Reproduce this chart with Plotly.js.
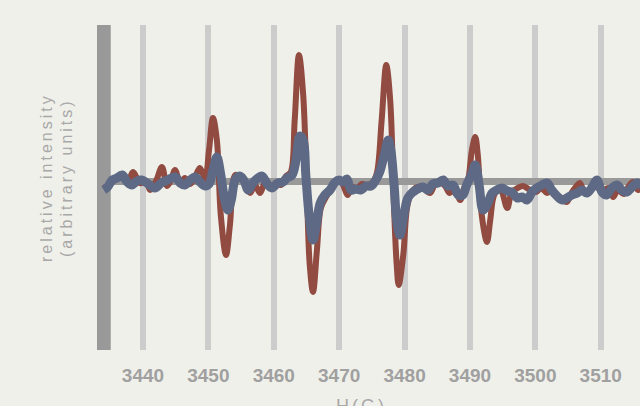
<!DOCTYPE html>
<html>
<head>
<meta charset="utf-8">
<script src="https://cdn.plot.ly/plotly-3.0.1.min.js"></script>
<style>
  html, body { margin: 0; padding: 0; background: #f0f0ea; }
  #chart { width: 640px; height: 406px; }
  .annotation-text { letter-spacing: 3px; }
</style>
</head>
<body>
<div id="chart"></div>
<script>
// Field H (G) and relative intensity (arbitrary units)
const redField = [3434.0,3435.0,3436.0,3436.8,3437.6,3438.5,3439.5,3440.5,3441.1,3442.0,3442.9,3443.7,3444.3,3444.9,3445.7,3446.4,3447.2,3448.1,3448.7,3449.5,3450.1,3450.7,3451.3,3451.9,3452.7,3453.3,3454.1,3454.8,3455.6,3456.4,3457.1,3457.9,3458.7,3459.4,3460.3,3461.1,3461.9,3462.6,3463.2,3463.85,3464.5,3465.1,3465.5,3466.0,3466.6,3467.2,3468.0,3468.7,3469.5,3470.3,3470.9,3471.3,3472.0,3472.7,3473.5,3474.4,3475.2,3475.8,3476.5,3477.2,3477.8,3478.4,3478.8,3479.1,3479.8,3480.4,3481.1,3481.9,3482.8,3483.9,3484.6,3485.4,3486.2,3486.9,3487.7,3488.5,3489.1,3489.7,3490.3,3490.8,3491.2,3491.8,3492.6,3493.1,3493.7,3494.6,3495.7,3496.4,3497.3,3498.1,3499.2,3500.1,3500.9,3501.8,3502.5,3503.3,3504.1,3504.8,3505.6,3506.3,3506.8,3507.6,3508.3,3509.3,3510.2,3511.1,3511.9,3512.6,3513.5,3514.3,3514.9,3515.7,3516.3];
const redIntensity = [-7,-3,3,7,-2,9,-2,-1,-9,0,14,-5,1,11,-2,3,-3,6,13,3,31,63,41,-34,-74,-44,6,4,-2,-12,-4,-12,-1,-6,-3,-4,5,9,61,126,86,-19,-84,-111,-69,-27,-16,-9,-2,-1,-9,-14,-6,-7,-3,-4,-1,9,61,116,81,-29,-84,-104,-74,-26,-11,-6,-7,-12,-4,-1,-5,-12,-8,-19,-7,1,31,44,26,-34,-61,-39,-14,-7,-27,-11,-7,-5,-9,-11,-7,-12,-9,-14,-19,-21,-11,-5,-2,-12,-9,-5,-11,-7,-16,-9,-13,-5,-1,-9,-5];

const blueField = [3434.0,3434.6,3435.3,3436.0,3436.8,3437.6,3438.3,3439.1,3439.8,3440.8,3441.8,3442.8,3443.8,3444.9,3445.7,3446.4,3447.2,3448.0,3448.7,3449.5,3450.1,3450.7,3451.3,3451.9,3452.5,3453.0,3453.5,3454.1,3454.8,3455.4,3456.1,3456.8,3457.6,3458.2,3459.0,3459.7,3460.6,3461.4,3462.0,3462.8,3463.4,3464.0,3464.5,3464.9,3465.4,3466.0,3466.5,3467.1,3467.8,3468.6,3469.4,3470.0,3470.6,3471.2,3471.8,3472.6,3473.3,3474.1,3474.9,3475.6,3476.2,3476.9,3477.5,3477.9,3478.4,3478.8,3479.3,3479.9,3480.5,3481.3,3482.0,3482.8,3483.6,3484.3,3485.1,3485.9,3486.6,3487.4,3488.2,3488.9,3489.5,3490.2,3490.8,3491.4,3492.0,3492.6,3493.4,3494.1,3494.9,3495.7,3496.4,3497.2,3498.0,3498.7,3499.5,3500.2,3501.0,3501.8,3502.5,3503.3,3504.1,3504.8,3505.6,3506.4,3507.1,3507.9,3508.7,3509.4,3510.2,3510.9,3511.7,3512.5,3513.2,3514.0,3514.8,3515.5,3516.3];
const blueIntensity = [-9,-6,1,3,6,-1,-4,0,1,-3,-7,-2,1,4,-2,-4,1,4,-1,-5,-3,11,24,6,-19,-29,-19,1,5,1,-9,-2,3,5,-3,-7,-2,-1,3,6,21,45,41,6,-34,-59,-44,-22,-14,-9,-1,1,-1,2,-9,-8,-9,-5,-5,1,9,26,41,31,-4,-39,-54,-34,-17,-11,-8,-6,-9,-3,-2,1,-5,-4,-14,-14,-4,6,16,-4,-29,-24,-12,-9,-7,-10,-11,-17,-16,-19,-11,-7,-4,-2,-9,-15,-19,-17,-14,-12,-9,-12,-6,1,-11,-14,-7,-4,-9,-11,-6,-2,-5];

const tickValues = [3440,3450,3460,3470,3480,3490,3500,3510];
const tickLabels = ['3440','3450','3460','3470','3480','3490','3500','3510'];
const xTitle = 'H(G)';
const yTitle = 'relative intensity<br>(arbitrary units)';
const fieldStart = 3434.0;

const traces = [
  { x: redField, y: redIntensity, type: 'scatter', mode: 'lines',
    line: { color: '#914b41', width: 6, shape: 'spline', smoothing: 1 },
    hoverinfo: 'skip', showlegend: false },
  { x: blueField, y: blueIntensity, type: 'scatter', mode: 'lines',
    line: { color: '#5d6985', width: 9, shape: 'spline', smoothing: 1 },
    hoverinfo: 'skip', showlegend: false }
];

const layout = {
  width: 640, height: 406,
  paper_bgcolor: '#f0f0ea', plot_bgcolor: '#f0f0ea',
  margin: { l: 97, r: 0, t: 25, b: 56, pad: 0 },
  showlegend: false,
  xaxis: {
    range: [3432.97, 3516.0],
    tickvals: tickValues, ticktext: tickLabels,
    showgrid: true, gridcolor: '#cccccc', gridwidth: 6,
    zeroline: false, showline: false, ticks: '',
    ticklabelstandoff: 12,
    tickfont: { family: 'Liberation Sans, Arial, sans-serif', size: 19, color: '#a0a0a0', weight: 'bold' },
    fixedrange: true
  },
  yaxis: {
    range: [-169, 156],
    showgrid: false, showticklabels: false, ticks: '',
    zeroline: true, zerolinecolor: '#999999', zerolinewidth: 7,
    showline: false, fixedrange: true
  },
  shapes: [
    { type: 'line', xref: 'x', yref: 'paper', x0: fieldStart, x1: fieldStart, y0: 0, y1: 1,
      line: { color: '#999999', width: 14 }, layer: 'between' }
  ],
  annotations: [
    { text: yTitle, xref: 'paper', yref: 'paper', x: -0.075, y: 0.53,
      xanchor: 'center', yanchor: 'middle', textangle: -90, showarrow: false,
      font: { family: 'Liberation Sans, Arial, sans-serif', size: 16, color: '#a8a8a8' } },
    { text: xTitle, xref: 'paper', yref: 'paper', x: 0.487, y: -0.135,
      xanchor: 'center', yanchor: 'top', showarrow: false,
      font: { family: 'Liberation Sans, Arial, sans-serif', size: 18, color: '#a8a8a8' } }
  ]
};

Plotly.newPlot('chart', traces, layout, { displayModeBar: false, staticPlot: true });
</script>
</body>
</html>
